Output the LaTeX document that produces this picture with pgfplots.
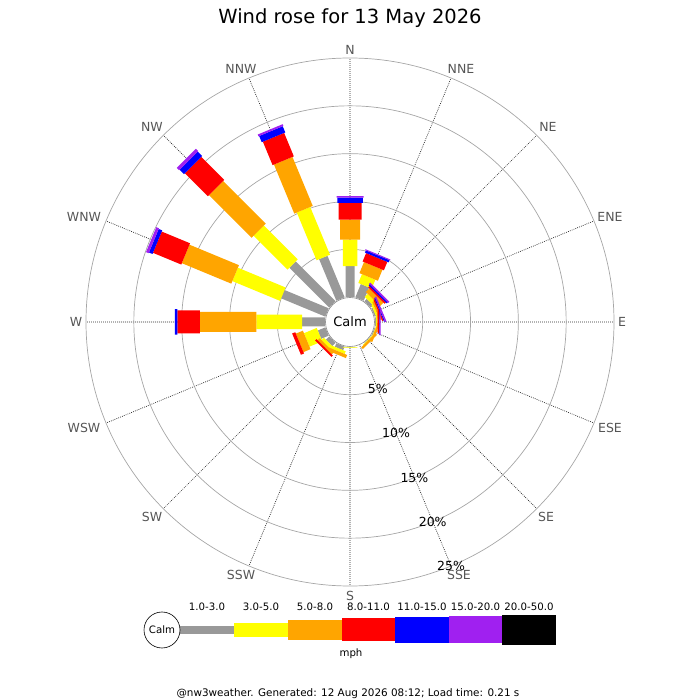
\documentclass[border=0pt]{standalone}
\usepackage{fontspec}
\setmainfont{DejaVu Sans}
\usepackage{pgfplots}
\pgfplotsset{compat=1.18}
\usepgfplotslibrary{polar}
\definecolor{wgray}{HTML}{999999}
\definecolor{wyellow}{HTML}{FFFF00}
\definecolor{worange}{HTML}{FFA500}
\definecolor{wred}{HTML}{FF0000}
\definecolor{wblue}{HTML}{0000FF}
\definecolor{wpurple}{HTML}{A020F0}
\definecolor{dirgray}{HTML}{555555}
\begin{document}
\begin{tikzpicture}
\begin{polaraxis}[
  width=528pt, height=528pt, scale only axis,
  xmin=0, xmax=360, ymin=0, ymax=27.6,
  xtick={0,22.5,...,337.5},
  ytick={7.6,12.6,17.6,22.6},
  xticklabels={}, yticklabels={},
  major tick length=0pt,
  xmajorgrids, ymajorgrids,
  major x grid style={black!85, line width=0.7pt, dash pattern=on 0.8pt off 1.2pt},
  major y grid style={black!35, line width=0.7pt},
  axis line style={black!35, line width=0.7pt},
  y axis line style={draw=none},
  y filter/.expression={y+2.6},
  unbounded coords=jump,
  clip=false,
]
% 1.0-3.0 mph
\addplot[draw=wgray, line width=9pt] coordinates {
 (90,0) (90,3.25) (nan,nan) (67.5,0) (67.5,1.5) (nan,nan) (45,0) (45,0.35) (nan,nan)
 (22.5,0) (22.5,0.15) (nan,nan) (0,0) (0,0.1) (nan,nan) (-22.5,0) (-22.5,0.1) (nan,nan)
 (-45,0) (-45,0.05) (nan,nan) (-90,0) (-90,0.05) (nan,nan) (-112.5,0) (-112.5,0.4) (nan,nan)
 (-135,0) (-135,0.5) (nan,nan) (-157.5,0) (-157.5,0.85) (nan,nan) (180,0) (180,2.4) (nan,nan)
 (157.5,0) (157.5,5.0) (nan,nan) (135,0) (135,5.9) (nan,nan) (112.5,0) (112.5,4.7)};
% 3.0-5.0 mph
\addplot[draw=wyellow, line width=14.5pt] coordinates {
 (90,3.25) (90,6.0) (nan,nan) (67.5,1.5) (67.5,2.5) (nan,nan) (45,0.35) (45,0.8) (nan,nan)
 (22.5,0.15) (22.5,0.35) (nan,nan) (0,0.1) (0,0.2) (nan,nan) (-22.5,0.1) (-22.5,0.15) (nan,nan)
 (-45,0.05) (-45,0.1) (nan,nan) (-90,0.05) (-90,0.1) (nan,nan) (-112.5,0.4) (-112.5,0.7) (nan,nan)
 (-135,0.5) (-135,0.85) (nan,nan) (-157.5,0.85) (-157.5,2.3) (nan,nan) (180,2.4) (180,7.2) (nan,nan)
 (157.5,5.0) (157.5,10.4) (nan,nan) (135,5.9) (135,10.9) (nan,nan) (112.5,4.7) (112.5,10.1)};
% 5.0-8.0 mph
\addplot[draw=worange, line width=20pt] coordinates {
 (90,6.0) (90,8.1) (nan,nan) (67.5,2.5) (67.5,3.75) (nan,nan) (45,0.8) (45,1.3) (nan,nan)
 (22.5,0.35) (22.5,0.55) (nan,nan) (0,0.2) (0,0.3) (nan,nan) (-22.5,0.15) (-22.5,0.35) (nan,nan)
 (-45,0.1) (-45,0.35) (nan,nan) (-112.5,0.7) (-112.5,1.05) (nan,nan)
 (-135,0.85) (-135,1.15) (nan,nan) (-157.5,2.3) (-157.5,3.1) (nan,nan) (180,7.2) (180,13.1) (nan,nan)
 (157.5,10.4) (157.5,16.0) (nan,nan) (135,10.9) (135,17.2) (nan,nan) (112.5,10.1) (112.5,15.65)};
% 8.0-11.0 mph
\addplot[draw=wred, line width=23pt] coordinates {
 (90,8.1) (90,9.85) (nan,nan) (67.5,3.75) (67.5,4.7) (nan,nan) (45,1.3) (45,1.5) (nan,nan)
 (22.5,0.55) (22.5,0.7) (nan,nan) (0,0.3) (0,0.45) (nan,nan)
 (-135,1.15) (-135,1.35) (nan,nan) (-157.5,3.1) (-157.5,3.45) (nan,nan) (180,13.1) (180,15.45) (nan,nan)
 (157.5,16.0) (157.5,19.2) (nan,nan) (135,17.2) (135,20.6) (nan,nan) (112.5,15.65) (112.5,18.3)};
% 11.0-15.0 mph
\addplot[draw=wblue, line width=25.5pt] coordinates {
 (90,9.85) (90,10.4) (nan,nan) (67.5,4.7) (67.5,4.95) (nan,nan) (45,1.5) (45,1.65) (nan,nan)
 (22.5,0.7) (22.5,0.8) (nan,nan) (0,0.45) (0,0.5) (nan,nan) (180,15.45) (180,15.7) (nan,nan)
 (157.5,19.2) (157.5,19.6) (nan,nan) (135,20.6) (135,21.25) (nan,nan) (112.5,18.3) (112.5,19.0)};
% 15.0-20.0 mph
\addplot[draw=wpurple, line width=27pt] coordinates {
 (90,10.4) (90,10.55) (nan,nan) (67.5,4.95) (67.5,5.05) (nan,nan) (45,1.65) (45,1.8) (nan,nan)
 (22.5,0.8) (22.5,0.95) (nan,nan) (0,0.5) (0,0.6) (nan,nan)
 (157.5,19.6) (157.5,19.9) (nan,nan) (135,21.25) (135,21.6) (nan,nan) (112.5,19.0) (112.5,19.2)};
\coordinate (C) at (axis cs:0,0);
\node[circle, draw=black!45, line width=0.6pt, fill=white, minimum size=49pt, inner sep=0pt,
      font=\fontsize{13}{13}\selectfont] at (axis cs:0,0) {Calm};
\node[font=\fontsize{12.5}{12.5}\selectfont] at (axis cs:-67.5,7.6) {5\%};
\node[font=\fontsize{12.5}{12.5}\selectfont] at (axis cs:-67.5,12.6) {10\%};
\node[font=\fontsize{12.5}{12.5}\selectfont] at (axis cs:-67.5,17.6) {15\%};
\node[font=\fontsize{12.5}{12.5}\selectfont] at (axis cs:-67.5,22.6) {20\%};
\node[font=\fontsize{12.5}{12.5}\selectfont] at (axis cs:-67.5,27.6) {25\%};
\end{polaraxis}
\pgfresetboundingbox
\path[use as bounding box] (C) ++(-350pt,-378pt) rectangle ++(700pt,700pt);
\begin{scope}[shift={(C)}]
\node[font=\fontsize{19.5}{20}\selectfont] at (0pt,304pt) {Wind rose for 13 May 2026};
\begin{scope}[every node/.style={text=dirgray, font=\fontsize{12.5}{12.5}\selectfont}]
\node at (0pt,272pt) {N};
\node at (111pt,253pt) {NNE};
\node at (198pt,195pt) {NE};
\node at (260pt,105pt) {ENE};
\node at (272pt,0pt) {E};
\node at (260pt,-106pt) {ESE};
\node at (196pt,-195pt) {SE};
\node at (109pt,-253pt) {SSE};
\node at (0pt,-274pt) {S};
\node at (-109pt,-253pt) {SSW};
\node at (-198pt,-195pt) {SW};
\node at (-266pt,-106pt) {WSW};
\node at (-274pt,0pt) {W};
\node at (-266pt,105pt) {WNW};
\node at (-198pt,195pt) {NW};
\node at (-109pt,253pt) {NNW};
\end{scope}
% legend
\fill[wgray] (-170pt,-312.25pt) rectangle (-116pt,-303.75pt);
\fill[wyellow] (-116pt,-315.25pt) rectangle (-62pt,-300.75pt);
\fill[worange] (-62pt,-318pt) rectangle (-8pt,-298pt);
\fill[wred] (-8pt,-319.5pt) rectangle (45pt,-296.5pt);
\fill[wblue] (45pt,-320.75pt) rectangle (99pt,-295.25pt);
\fill[wpurple] (99pt,-321.5pt) rectangle (152pt,-294.5pt);
\fill[black] (152pt,-322.5pt) rectangle (206pt,-293.5pt);
\draw[black, line width=0.6pt, fill=white] (-188pt,-308pt) circle (18pt);
\node[font=\fontsize{10.2}{10.2}\selectfont] at (-188pt,-308pt) {Calm};
\begin{scope}[every node/.style={font=\fontsize{10.2}{10.2}\selectfont}]
\node at (-143pt,-284.7pt) {1.0-3.0};
\node at (-89pt,-284.7pt) {3.0-5.0};
\node at (-35pt,-284.7pt) {5.0-8.0};
\node at (18.5pt,-284.7pt) {8.0-11.0};
\node at (72pt,-284.7pt) {11.0-15.0};
\node at (125.5pt,-284.7pt) {15.0-20.0};
\node at (179pt,-284.7pt) {20.0-50.0};
\node[anchor=base] at (1pt,-334pt) {mph};
\end{scope}
\node[anchor=base, font=\fontsize{10.4}{10.4}\selectfont] at (-2pt,-374pt) {@nw3weather. Generated: 12 Aug 2026 08:12; Load time: 0.21 s};
\end{scope}
\end{tikzpicture}
\end{document}
